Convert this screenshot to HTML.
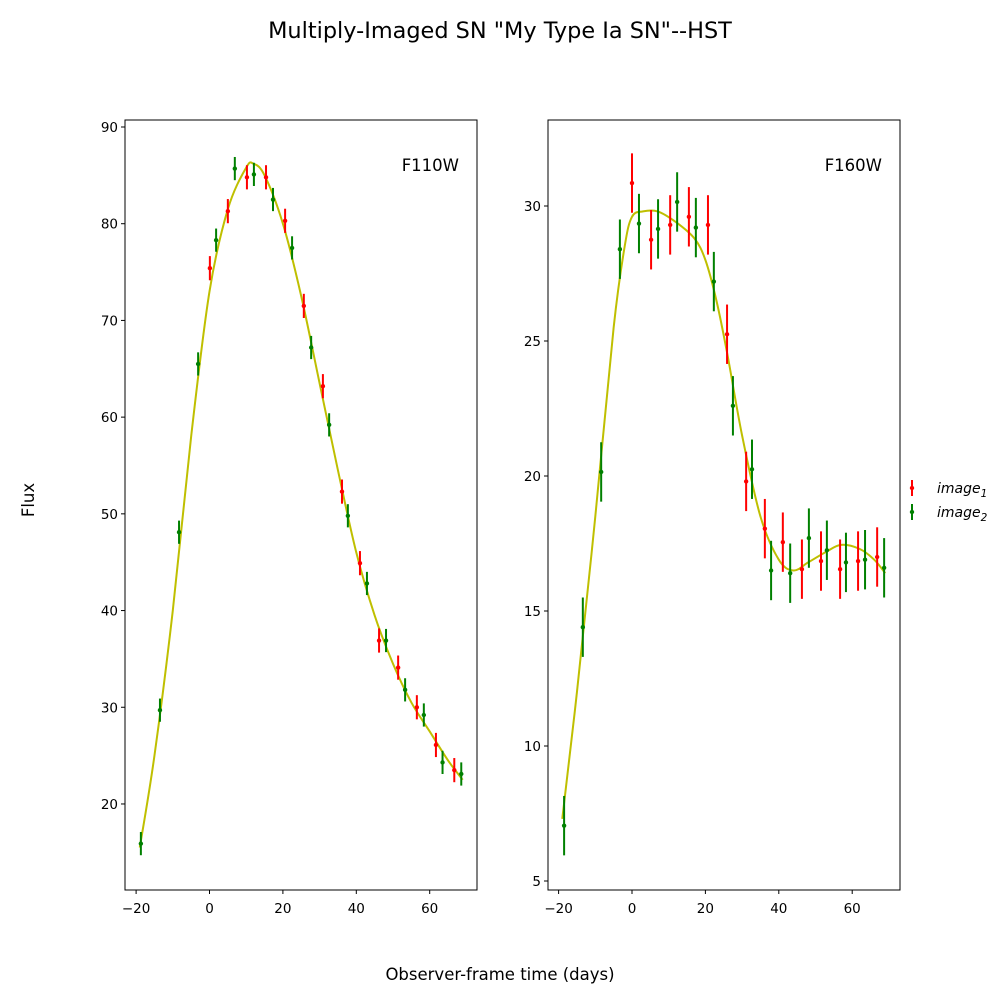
<!DOCTYPE html>
<html><head><meta charset="utf-8"><style>
body{margin:0;background:#fff;}
svg{display:block;font-family:"DejaVu Sans","Liberation Sans",sans-serif;}
</style></head><body>
<svg id="fig" width="1000" height="1000" viewBox="0 0 1000 1000">
<rect width="1000" height="1000" fill="#fff"/>
<text x="500" y="38" font-size="22.4" text-anchor="middle">Multiply-Imaged SN "My Type Ia SN"--HST</text>
<text x="34" y="500" font-size="16.5" text-anchor="middle" transform="rotate(-90 34 500)">Flux</text>
<text x="500" y="980" font-size="16.5" text-anchor="middle">Observer-frame time (days)</text>
<g>
<g>
<line x1="912" y1="480" x2="912" y2="496" stroke="red" stroke-width="2"/><circle cx="912" cy="488" r="2.2" fill="red"/>
<text x="937" y="493" font-size="14" font-style="italic">image<tspan font-size="10.5" dy="4">1</tspan></text></g>
<g>
<line x1="912" y1="504" x2="912" y2="520" stroke="green" stroke-width="2"/><circle cx="912" cy="512" r="2.2" fill="green"/>
<text x="937" y="517" font-size="14" font-style="italic">image<tspan font-size="10.5" dy="4">2</tspan></text></g>
</g>
</svg>
<script>
// F110W data
const f110RedT=[0.1,5.0,10.2,15.4,20.6,25.7,30.9,36.1,41.0,46.2,51.4,56.5,61.7,66.7];
const f110RedF=[75.4,81.3,84.8,84.8,80.3,71.5,63.2,52.3,44.9,36.9,34.1,30.0,26.1,23.5];
const f110GreenT=[-18.7,-13.5,-8.3,-3.1,1.8,6.9,12.1,17.3,22.5,27.7,32.6,37.7,42.9,48.1,53.3,58.4,63.5,68.6];
const f110GreenF=[15.9,29.7,48.1,65.5,78.3,85.7,85.1,82.5,77.5,67.2,59.2,49.8,42.8,36.9,31.8,29.2,24.3,23.1];
const f110ModelT=[-19,-15,-10,-5,0,5,10,12,15,20,25,30,35,40,45,50,55,60,65,69];
const f110ModelF=[15.5,25,40,58,73,81.5,85.8,86.2,85,80,72.5,63.5,54.5,46,39.5,34.5,30.5,27.5,24.5,22.5];
// F160W data
const f160RedT=[0,5.2,10.4,15.5,20.7,25.9,31.1,36.2,41.1,46.3,51.5,56.7,61.6,66.8];
const f160RedF=[30.85,28.75,29.3,29.6,29.3,25.25,19.8,18.05,17.55,16.55,16.85,16.55,16.85,17.0];
const f160GreenT=[-18.5,-13.4,-8.4,-3.3,1.9,7.1,12.3,17.4,22.3,27.5,32.7,37.9,43.1,48.2,53.1,58.3,63.5,68.7];
const f160GreenF=[7.05,14.4,20.15,28.4,29.35,29.15,30.15,29.2,27.2,22.6,20.25,16.5,16.4,17.7,17.25,16.8,16.9,16.6];
const f160ModelT=[-19,-15,-10,-5,-2,0,3,7,12,17,20,23,26,30,35,40,44,48,53,57,62,66,69];
const f160ModelF=[7.3,12,18.5,25.5,28.5,29.6,29.8,29.8,29.4,28.8,28,26.5,24.5,21.5,18.5,16.9,16.5,16.8,17.2,17.45,17.3,16.9,16.4];
const f110Ticks=[20,30,40,50,60,70,80,90];
const f160Ticks=[5,10,15,20,25,30];
const xTicks=[-20,0,20,40,60];

const svg=document.getElementById('fig');
const NS='http://www.w3.org/2000/svg';
function mk(tag,attrs,parent){const e=document.createElementNS(NS,tag);for(const k in attrs)e.setAttribute(k,attrs[k]);(parent||svg).appendChild(e);return e;}
function spline(pts){let d='M'+pts[0][0]+','+pts[0][1];for(let i=0;i<pts.length-1;i++){const p0=pts[Math.max(0,i-1)],p1=pts[i],p2=pts[i+1],p3=pts[Math.min(pts.length-1,i+2)];
const c1=[p1[0]+(p2[0]-p0[0])/6,p1[1]+(p2[1]-p0[1])/6],c2=[p2[0]-(p3[0]-p1[0])/6,p2[1]-(p3[1]-p1[1])/6];d+=` C${c1} ${c2} ${p2}`;}return d;}

function panel(o){
  const g=mk('g',{});
  
  
  const xs=t=>o.x0+(t+o.tmin0)*o.kx, ys=v=>o.y0-(v-o.v0)*o.ky;
  const pts=o.mt.map((t,i)=>[xs(t).toFixed(2),ys(o.mf[i]).toFixed(2)].map(Number));
  const p=mk('path',{d:spline(pts),fill:'none',stroke:'#bfbf00','stroke-width':2},g);
  
  
  function series(T,F,col,err,nm){T.forEach((t,i)=>{const x=xs(t),y=ys(F[i]);
    const l=mk('line',{x1:x,x2:x,y1:ys(F[i]+err),y2:ys(F[i]-err),stroke:col,'stroke-width':2},g);
    
    
    const c=mk('circle',{cx:x,cy:y,r:2.2,fill:col},g);
    
    });}
  series(o.rt,o.rf,'red',o.er,'image1');
  series(o.gt,o.gf,'green',o.eg,'image2');
  const fr=mk('rect',{x:o.L,y:o.T,width:o.W,height:o.H,fill:'none',stroke:'#000','stroke-width':1},g);
  
  
  xTicks.forEach(t=>{const x=xs(t);mk('line',{x1:x,x2:x,y1:o.T+o.H,y2:o.T+o.H+4,stroke:'#000'},g);
    const tx=mk('text',{x:x,y:o.T+o.H+23,'font-size':13.5,'text-anchor':'middle'},g);tx.textContent=t<0?'\u2212'+(-t):t;
    
    });
  o.yt.forEach(v=>{const y=ys(v);mk('line',{x1:o.L-4,x2:o.L,y1:y,y2:y,stroke:'#000'},g);
    const tx=mk('text',{x:o.L-7,y:y+5,'font-size':13.5,'text-anchor':'end'},g);tx.textContent=v;
    
    });
  const lb=mk('text',{x:o.L+o.W-18,y:o.T+51,'font-size':16.5,'text-anchor':'end'},g);lb.textContent=o.label;
  
  
}
panel({name:'panel-f110w',label:'F110W',L:125,T:120,W:352,H:770,x0:209.5,tmin0:0,kx:3.67,y0:127,v0:90,ky:9.671,
  mt:f110ModelT,mf:f110ModelF,rt:f110RedT,rf:f110RedF,gt:f110GreenT,gf:f110GreenF,er:1.25,eg:1.2,yt:f110Ticks});
panel({name:'panel-f160w',label:'F160W',L:548,T:120,W:352,H:770,x0:632,tmin0:0,kx:3.67,y0:206,v0:30,ky:27,
  mt:f160ModelT,mf:f160ModelF,rt:f160RedT,rf:f160RedF,gt:f160GreenT,gf:f160GreenF,er:1.1,eg:1.1,yt:f160Ticks});
</script>
</body></html>
